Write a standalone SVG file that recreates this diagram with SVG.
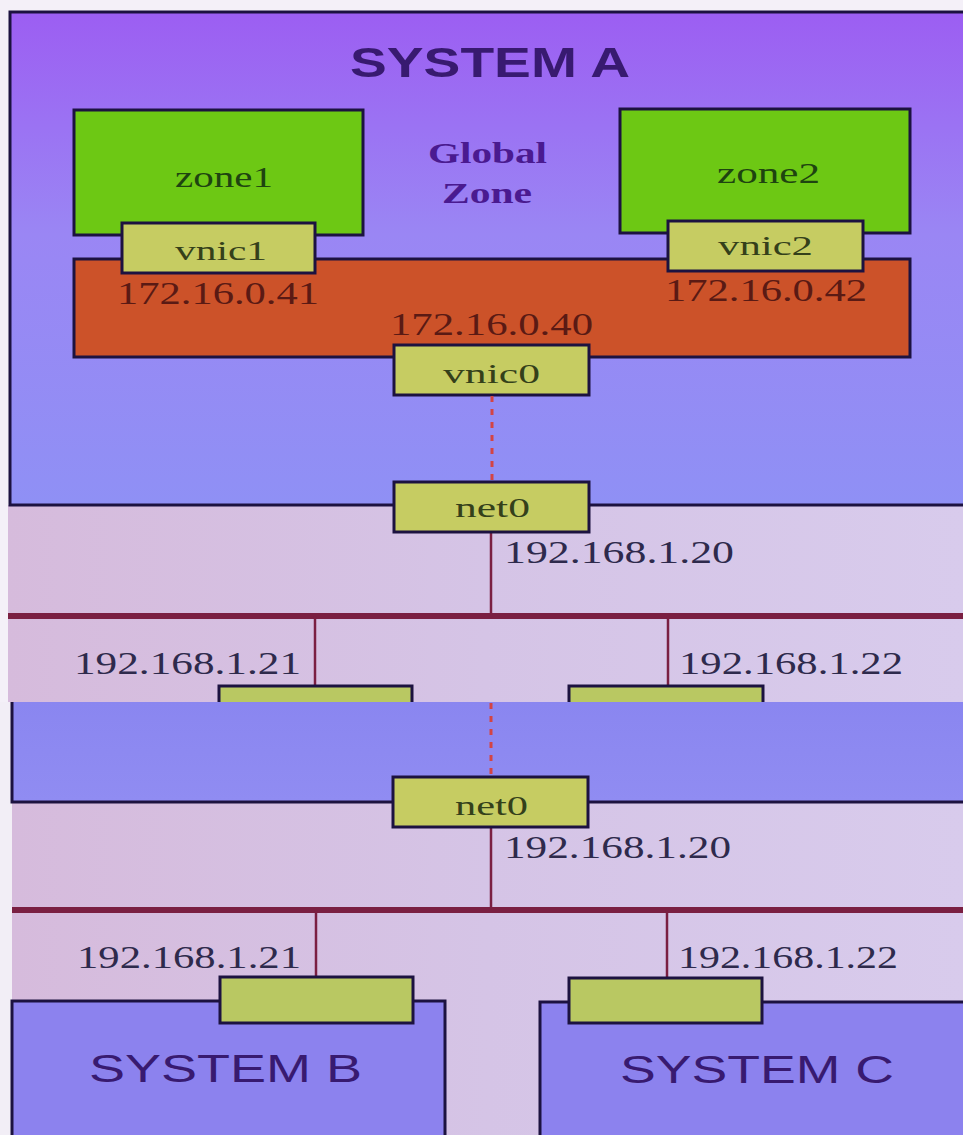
<svg xmlns="http://www.w3.org/2000/svg" width="963" height="1135" viewBox="0 0 963 1135">
  <defs>
    <linearGradient id="gA" x1="0" y1="0" x2="0" y2="1">
      <stop offset="0" stop-color="#9c5ef2"/>
      <stop offset="0.45" stop-color="#9a86f4"/>
      <stop offset="1" stop-color="#8f90f5"/>
    </linearGradient>
    <linearGradient id="gL" x1="0" y1="0" x2="1" y2="0">
      <stop offset="0" stop-color="#d6bbdc"/>
      <stop offset="0.5" stop-color="#d5c4e6"/>
      <stop offset="1" stop-color="#d8cbec"/>
    </linearGradient>
    <linearGradient id="gB" x1="0" y1="0" x2="0" y2="1">
      <stop offset="0" stop-color="#8a86f0"/>
      <stop offset="1" stop-color="#908cf2"/>
    </linearGradient>
    <clipPath id="clipTop"><rect x="0" y="0" width="963" height="702"/></clipPath>
    <clipPath id="clipBot"><rect x="0" y="702" width="963" height="433"/></clipPath>
  </defs>
  <style>
    .bd{stroke:#1c1240;stroke-width:3}
    .zone{fill:#6dc814}
    .nic{fill:#c6cc62}
    .nic2{fill:#b9c862}
    .org{fill:#cc5229}
    .sys{fill:#8c82ee}
    .bus{stroke:#7a1f42;stroke-width:6;fill:none}
    .drop{stroke:#7a1f42;stroke-width:2.5;fill:none}
    .dash{stroke:#d34444;stroke-width:3;stroke-dasharray:6 7;fill:none}
    .edge{stroke:#1c1240;stroke-width:3;fill:none}
    .serif{font-family:"Liberation Serif","Times New Roman",serif}
    .sans{font-family:"Liberation Sans",Arial,sans-serif}
    .tz{font-size:29px;fill:#1e4410}
    .tn{font-size:28px;fill:#34401a}
    .to{font-size:32px;fill:#5a1a14}
    .tip{font-size:31px;fill:#2e2a4c}
    .tg{font-size:30px;font-weight:bold;fill:#4a1a90}
    .ts{fill:#381a70}
  </style>

  <rect x="0" y="0" width="963" height="1135" fill="#f4f0f8"/>

  <!-- ===== Top photo ===== -->
  <g clip-path="url(#clipTop)">
    <rect x="8" y="505" width="955" height="197" fill="url(#gL)"/>
    <g id="systemA">
      <rect x="10" y="12" width="960" height="493" fill="url(#gA)" class="bd"/>
      <text class="sans ts" x="350" y="77" font-size="42" font-weight="bold" textLength="280" lengthAdjust="spacingAndGlyphs">SYSTEM A</text>
    </g>
    <g id="globalzone">
      <text class="serif tg" x="428" y="163" textLength="119" lengthAdjust="spacingAndGlyphs">Global</text>
      <text class="serif tg" x="442" y="203" textLength="90" lengthAdjust="spacingAndGlyphs">Zone</text>
    </g>
    <g id="zone1">
      <rect x="74" y="110" width="289" height="125" class="zone bd"/>
      <text class="serif tz" x="175" y="187" textLength="98" lengthAdjust="spacingAndGlyphs">zone1</text>
    </g>
    <g id="zone2">
      <rect x="620" y="109" width="290" height="124" class="zone bd"/>
      <text class="serif tz" x="717" y="183" textLength="103" lengthAdjust="spacingAndGlyphs">zone2</text>
    </g>
    <g id="vswitch">
      <rect x="74" y="259" width="836" height="98" class="org bd"/>
      <text class="serif to" x="117" y="304" textLength="202" lengthAdjust="spacingAndGlyphs">172.16.0.41</text>
      <text class="serif to" x="665" y="301" textLength="202" lengthAdjust="spacingAndGlyphs">172.16.0.42</text>
      <text class="serif to" x="390" y="335" textLength="203" lengthAdjust="spacingAndGlyphs">172.16.0.40</text>
    </g>
    <g id="vnic1">
      <rect x="122" y="223" width="193" height="50" class="nic bd"/>
      <text class="serif tn" x="175" y="260" textLength="92" lengthAdjust="spacingAndGlyphs">vnic1</text>
    </g>
    <g id="vnic2">
      <rect x="668" y="221" width="195" height="50" class="nic bd"/>
      <text class="serif tn" x="718" y="255" textLength="95" lengthAdjust="spacingAndGlyphs">vnic2</text>
    </g>
    <g id="vnic0">
      <rect x="394" y="345" width="195" height="50" class="nic bd"/>
      <text class="serif tn" x="443" y="383" textLength="97" lengthAdjust="spacingAndGlyphs">vnic0</text>
    </g>
    <g id="connectorsTop">
      <line x1="492" y1="396" x2="492" y2="482" class="dash"/>
      <line x1="491" y1="532" x2="491" y2="616" class="drop"/>
      <line x1="8" y1="616" x2="963" y2="616" class="bus"/>
      <line x1="315" y1="616" x2="315" y2="686" class="drop"/>
      <line x1="668" y1="616" x2="668" y2="686" class="drop"/>
    </g>
    <g id="net0Top">
      <rect x="394" y="482" width="195" height="50" class="nic bd"/>
      <text class="serif tn" x="455" y="517" textLength="75" lengthAdjust="spacingAndGlyphs">net0</text>
    </g>
    <g id="labelsTop">
      <text class="serif tip" x="504" y="563" textLength="230" lengthAdjust="spacingAndGlyphs">192.168.1.20</text>
      <text class="serif tip" x="74" y="674" textLength="227" lengthAdjust="spacingAndGlyphs">192.168.1.21</text>
      <text class="serif tip" x="679" y="674" textLength="224" lengthAdjust="spacingAndGlyphs">192.168.1.22</text>
    </g>
    <g id="nicBTop">
      <rect x="219" y="686" width="193" height="46" class="nic2 bd"/>
    </g>
    <g id="nicCTop">
      <rect x="569" y="686" width="194" height="46" class="nic2 bd"/>
    </g>
  </g>

  <!-- ===== Bottom photo ===== -->
  <g clip-path="url(#clipBot)">
    <rect x="0" y="702" width="963" height="433" fill="#f2eef6"/>
    <rect x="12" y="802" width="951" height="333" fill="url(#gL)"/>
    <rect x="12" y="702" width="951" height="100" fill="url(#gB)"/>
    <g id="systemAedge">
      <polyline points="12,702 12,802 963,802" class="edge"/>
    </g>
    <g id="connectorsBottom">
      <line x1="491" y1="703" x2="491" y2="777" class="dash"/>
      <line x1="491" y1="827" x2="491" y2="910" class="drop"/>
      <line x1="12" y1="910" x2="963" y2="910" class="bus"/>
      <line x1="316" y1="910" x2="316" y2="978" class="drop"/>
      <line x1="667" y1="910" x2="667" y2="978" class="drop"/>
    </g>
    <g id="net0">
      <rect x="393" y="777" width="195" height="50" class="nic bd"/>
      <text class="serif tn" x="455" y="815" textLength="73" lengthAdjust="spacingAndGlyphs">net0</text>
    </g>
    <g id="labelsBottom">
      <text class="serif tip" x="504" y="858" textLength="227" lengthAdjust="spacingAndGlyphs">192.168.1.20</text>
      <text class="serif tip" x="77" y="968" textLength="224" lengthAdjust="spacingAndGlyphs">192.168.1.21</text>
      <text class="serif tip" x="678" y="968" textLength="220" lengthAdjust="spacingAndGlyphs">192.168.1.22</text>
    </g>
    <g id="systemB">
      <rect x="12" y="1001" width="433" height="140" class="sys bd"/>
      <text class="sans ts" x="89" y="1082" font-size="38" textLength="273" lengthAdjust="spacingAndGlyphs">SYSTEM B</text>
    </g>
    <g id="systemC">
      <rect x="540" y="1002" width="430" height="140" class="sys bd"/>
      <text class="sans ts" x="620" y="1083" font-size="38" textLength="274" lengthAdjust="spacingAndGlyphs">SYSTEM C</text>
    </g>
    <g id="nicB">
      <rect x="220" y="977" width="193" height="46" class="nic2 bd"/>
    </g>
    <g id="nicC">
      <rect x="569" y="978" width="193" height="45" class="nic2 bd"/>
    </g>
  </g>
</svg>
